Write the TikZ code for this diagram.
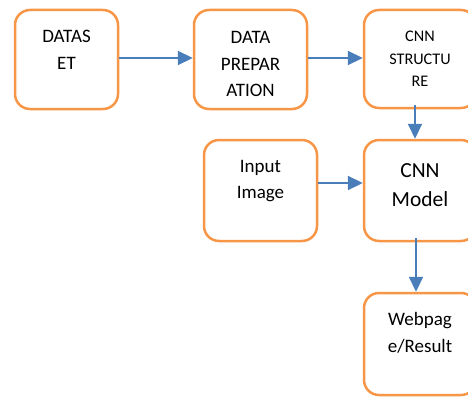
\documentclass[tikz,border=0pt]{standalone}
\usepackage{fontspec}
\setmainfont{Carlito}
\usetikzlibrary{arrows.meta}
\definecolor{boxorange}{HTML}{F79646}
\definecolor{arrowblue}{HTML}{4A7EBB}
\begin{document}
\begin{tikzpicture}[x=1pt,y=-1pt,
  box/.style={draw=boxorange, line width=2.5pt, rounded corners=15pt, inner sep=0pt},
  lbl/.style={anchor=north, align=center, inner sep=0pt, text=black},
  normalfont/.style={font=\fontsize{19}{26.5}\selectfont},
  smallfont/.style={font=\fontsize{16.2}{22.5}\selectfont},
  bigfont/.style={font=\fontsize{21.5}{29}\selectfont},
  conn/.style={draw=arrowblue, line width=2.2pt, -{Triangle[length=15pt,width=14pt]}}]
\useasboundingbox (0,0) rectangle (468,396);
% boxes
\node[box, minimum width=103pt, minimum height=99pt] (ds) at (66.5,59.5) {};
\node[box, minimum width=113pt, minimum height=99pt] (dp) at (250.5,59.5) {};
\node[box, minimum width=112pt, minimum height=98pt] (cs) at (420,59) {};
\node[box, minimum width=113pt, minimum height=101pt] (ii) at (260.5,190.5) {};
\node[box, minimum width=112pt, minimum height=101pt] (cm) at (420,190.5) {};
\node[box, minimum width=112pt, minimum height=102pt] (wr) at (420,344) {};
% texts
\node[lbl, normalfont] (tds) at (ds.north |- 0,30) {DATAS\\ET};
\node[lbl, normalfont] (tdp) at (dp.north |- 0,31.5) {DATA\\PREPAR\\ATION};
\node[lbl, smallfont] (tcs) at (cs.north |- 0,31) {CNN\\STRUCTU\\RE};
\node[lbl, normalfont] (tii) at (ii.north |- 0,160) {Input\\Image};
\node[lbl, bigfont] (tcm) at (cm.north |- 0,163) {CNN\\Model};
\node[lbl, normalfont] (twr) at (wr.north |- 0,312.5) {Webpag\\e/Result};
% connectors
\draw[conn] (ds.east |- 0,58) -- (dp.west |- 0,58);
\draw[conn] (dp.east |- 0,58) -- (cs.west |- 0,58);
\draw[conn] (cs.south -| 415,0) ++(0,-4) -- (cm.north -| 415,0);
\draw[conn] (ii.east |- 0,183) -- (cm.west |- 0,183);
\draw[conn] (cm.south -| 416,0) ++(0,-4) -- (wr.north -| 416,0);
\end{tikzpicture}
\end{document}
